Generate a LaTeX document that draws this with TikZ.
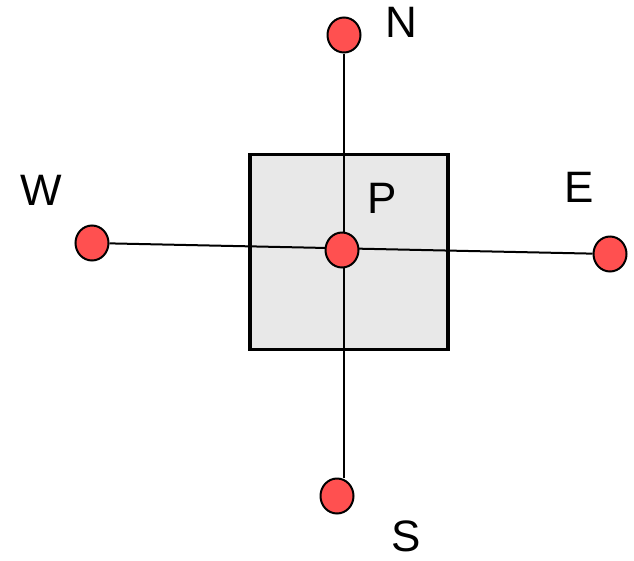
\documentclass[tikz,border=0pt]{standalone}
\usepackage{fontspec}
\setmainfont{Liberation Sans}
\usetikzlibrary{shapes.geometric, backgrounds}
\definecolor{ptred}{HTML}{FF5050}
\definecolor{cellgray}{HTML}{E8E8E8}

\begin{document}
\begin{tikzpicture}[
  x=1pt, y=-1pt,
  every node/.style={font=\fontsize{44}{50}\selectfont},
  gridpt/.style={ellipse, draw=black, line width=2pt, fill=ptred, minimum width=33pt, minimum height=35pt, inner sep=0pt},
  cellbox/.style={rectangle, draw=black, line width=3.5pt, fill=cellgray, minimum width=198pt, minimum height=195pt, inner sep=0pt},
  lbl/.style={inner sep=0pt, text=black},
  link/.style={black, line width=2pt},
]
\useasboundingbox (0,0) rectangle (634,560);

% control volume and grid points
\node[gridpt] (P) at (342, 250) {};
\node[gridpt] (N) at (344, 35) {};
\node[gridpt] (S) at (337, 496) {};
\node[gridpt] (W) at (92, 243) {};
\node[gridpt] (E) at (610, 254) {};

% labels
\node[lbl] (lP) at (382, 198) {P};
\node[lbl] (lN) at (401, 22) {N};
\node[lbl] (lS) at (406, 536) {S};
\node[lbl] (lW) at (41, 190) {W};
\node[lbl] (lE) at (579, 187) {E};

\begin{pgfonlayer}{background}
  \node[cellbox] (cell) at (349, 252) {};
  \draw[link] (N) -- ([xshift=7pt]S.north);
  \draw[link] (W) -- (E);
\end{pgfonlayer}

\end{tikzpicture}
\end{document}
